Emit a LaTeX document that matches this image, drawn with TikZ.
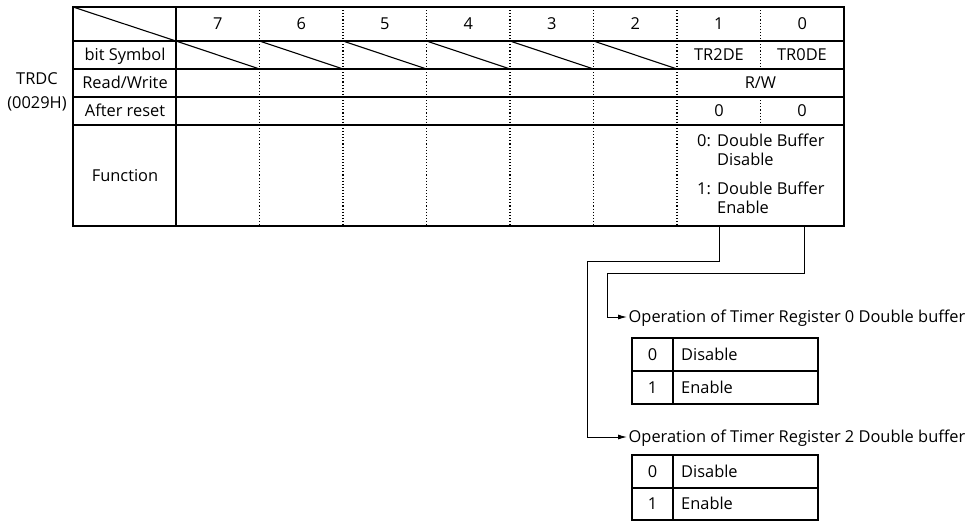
\documentclass[tikz,border=0pt]{standalone}
\usepackage{fontspec}
\setmainfont{Open Sans}
\usetikzlibrary{arrows.meta}

\begin{document}
\begin{tikzpicture}[
            x=1pt, y=-1pt,
            every node/.style={font=\fontsize{16.4}{19}\selectfont, inner sep=0pt, text height=11.7pt, text depth=0pt},
            lbl/.style={anchor=west},
            frame/.style={line width=2pt},
            rule/.style={line width=1.1pt},
            sep/.style={line width=1.1pt, dash pattern=on 1.1pt off 2pt},
            conn/.style={line width=1pt, -{Latex[length=9pt, width=5pt]}}
        ]
        \useasboundingbox (0,0) rectangle (971,522);
        % register table
        \draw[rule] (73,41) -- (844,41) (73,69) -- (844,69) (73,97) -- (844,97) (73,125) -- (844,125);
        \draw[rule] (176,7) -- (176,226);
        \draw[rule] (73,7) -- (176,41);
        \foreach \b [count=\i from 0] in {7,6,5,4,3,2,1,0} {
            \node (h\b) at ({217.75+83.5*\i},24) {\b};
        }
        \foreach \i in {1,...,6} {
            \draw[sep] ({176+83.5*\i},7) -- ({176+83.5*\i},226);
        }
        \foreach \i in {0,...,5} {
            \draw[rule] ({176+83.5*\i},41) -- ({259.5+83.5*\i},69);
        }
        \draw[sep] (760.5,7) -- (760.5,69) (760.5,97) -- (760.5,125);
        \draw[frame] (73,7) rectangle (844,226);
        \node (trdc) at (37,79) {TRDC};
        \node (addr) at (37,103) {(0029H)};
        \node (sym) at (125,55) {bit Symbol};
        \node (rw) at (125,83) {Read/Write};
        \node (rst) at (125,111) {After reset};
        \node (fn) at (125,176) {Function};
        \node (tr2de) at (719,55) {TR2DE};
        \node (tr0de) at (802,55) {TR0DE};
        \node (rwv) at (760.5,83) {R/W};
        \node (rst1) at (719,111) {0};
        \node (rst0) at (802,111) {0};
        \node[lbl] (fdis) at (697,141) {\makebox[20pt][l]{0:}Double Buffer};
        \node[lbl] (fdis2) at (717,160) {Disable};
        \node[lbl] (fen) at (697,189) {\makebox[20pt][l]{1:}Double Buffer};
        \node[lbl] (fen2) at (717,208) {Enable};
        % connectors
        \coordinate (c1) at (719,226);
        \coordinate (c0) at (804,226);
        \node[lbl, inner xsep=1.5pt] (op0) at (627,317) {Operation of Timer Register 0 Double buffer};
        \node[lbl, inner xsep=1.5pt] (op2) at (627,437) {Operation of Timer Register 2 Double buffer};
        \draw[conn] (c1) |- (587,261) |- (op2.west);
        \draw[conn] (c0) |- (607,273) |- (op0.west);
        % value tables
        \draw[rule] (632,338) rectangle (818,404) (632,371) -- (818,371) (673,338) -- (673,404);
        \node (t0z) at (652.5,354.5) {0};
        \node[lbl] (t0d) at (681,354.5) {Disable};
        \node (t0o) at (652.5,387.5) {1};
        \node[lbl] (t0e) at (681,387.5) {Enable};
        \draw[rule] (632,455) rectangle (818,520) (632,488) -- (818,488) (673,455) -- (673,520);
        \node (t2z) at (652.5,471.5) {0};
        \node[lbl] (t2d) at (681,471.5) {Disable};
        \node (t2o) at (652.5,504) {1};
        \node[lbl] (t2e) at (681,504) {Enable};
\end{tikzpicture}
\end{document}
